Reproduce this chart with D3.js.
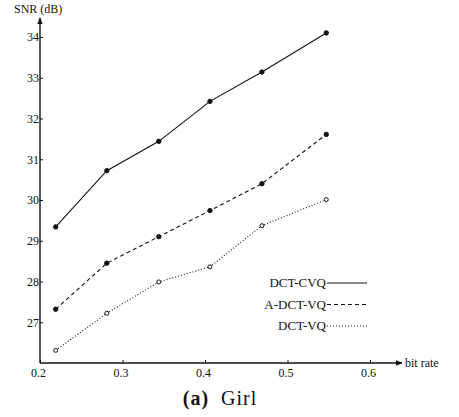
<!DOCTYPE html>
<html>
<head>
<meta charset="utf-8">
<script src="https://cdn.jsdelivr.net/npm/d3@7"></script>
<style>
  body { margin: 0; background: #fff; }
</style>
</head>
<body>
<div id="chart"></div>
<script>
const bitRate = [0.219, 0.281, 0.344, 0.406, 0.469, 0.547]
const cvq = [29.34, 30.72, 31.44, 32.42, 33.14, 34.10]
const adctvq = [27.32, 28.45, 29.10, 29.74, 30.40, 31.61]
const dctvq = [26.31, 27.22, 27.99, 28.36, 29.37, 30.01]
const xTicks = [0.2, 0.3, 0.4, 0.5, 0.6]
const yTicks = [27, 28, 29, 30, 31, 32, 33, 34]
const seriesNames = ['DCT-CVQ', 'A-DCT-VQ', 'DCT-VQ']

const serif = '"Liberation Serif", "Times New Roman", "DejaVu Serif", serif'

const svg = d3.select('#chart')
  .append('svg')
    .attr('width', 459)
    .attr('height', 417)
    .style('font-family', serif)

const x = d3.scaleLinear().domain([0.2, 0.6]).range([40, 370])
const y = d3.scaleLinear().domain([26, 34]).range([363, 37])

svg.append('defs').append('marker')
    .attr('id', 'arrow')
    .attr('viewBox', '0 -5 10 10')
    .attr('refX', 9)
    .attr('markerWidth', 7)
    .attr('markerHeight', 7)
    .attr('markerUnits', 'userSpaceOnUse')
    .attr('orient', 'auto')
  .append('path')
    .attr('d', 'M0,-4L10,0L0,4Z')
    .style('fill', '#111')

// axes lines with arrows
svg.append('line')
  .attr('x1', x(0.2)).attr('y1', y(26))
  .attr('x2', 402).attr('y2', y(26))
  .attr('marker-end', 'url(#arrow)')
  .style('stroke', '#111').style('stroke-width', 1.4)

svg.append('line')
  .attr('x1', x(0.2)).attr('y1', y(26))
  .attr('x2', x(0.2)).attr('y2', 18)
  .attr('marker-end', 'url(#arrow)')
  .style('stroke', '#111').style('stroke-width', 1.4)

const xAxis = svg.append('g')
  .attr('transform', `translate(0,${y(26)})`)
  .call(d3.axisBottom(x).tickValues(xTicks).tickSize(-3).tickFormat(d3.format('.1f')))
xAxis.attr('font-family', serif)
xAxis.select('.domain').remove()
xAxis.selectAll('text').attr('dy', '0.9em').attr('dx', '-2')
  .style('font-size', '12px').style('font-family', serif).style('fill', '#111')
xAxis.selectAll('line').style('stroke', '#111')

const yAxis = svg.append('g')
  .attr('transform', `translate(${x(0.2)},0)`)
  .call(d3.axisLeft(y).tickValues(yTicks).tickSize(-3).tickPadding(1))
yAxis.attr('font-family', serif)
yAxis.select('.domain').remove()
yAxis.selectAll('text')
  .style('font-size', '12px').style('font-family', serif).style('fill', '#111')
yAxis.selectAll('line').style('stroke', '#111')

svg.append('text')
  .attr('x', 14).attr('y', 13)
  .style('font-size', '12px')
  .style('fill', '#111')
  .text('SNR (dB)')

svg.append('text')
  .attr('x', 405).attr('y', y(26) + 4)
  .style('font-size', '12px')
  .style('fill', '#111')
  .text('bit rate')

svg.append('text')
  .attr('x', 220).attr('y', 405)
  .attr('text-anchor', 'middle')
  .style('font-size', '20px')
  .style('fill', '#111')
  .style('letter-spacing', '1px')
  .html('<tspan style="font-weight:bold">(a)</tspan>\u00a0 Girl')

const series = [
  { name: seriesNames[0], values: cvq, dash: null, filled: true },
  { name: seriesNames[1], values: adctvq, dash: '4,3', filled: true },
  { name: seriesNames[2], values: dctvq, dash: '1,2', filled: false }
]

const line = d3.line()
  .x((d, i) => x(bitRate[i]))
  .y(d => y(d))

series.forEach((s, k) => {
  svg.append('path')
    .attr('d', line(s.values))
    .style('fill', 'none')
    .style('stroke', '#111')
    .style('stroke-width', 1.1)
    .style('stroke-dasharray', s.dash)

  svg.selectAll(null)
    .data(s.values)
    .enter().append('circle')
      .attr('cx', (d, i) => x(bitRate[i]))
      .attr('cy', d => y(d))
      .attr('r', s.filled ? 2.2 : 2)
      .style('fill', s.filled ? '#111' : '#fff')
      .style('stroke', '#111')
      .style('stroke-width', 1)

  // legend entry
  const ly = 283 + k * 21.5
  svg.append('text')
    .attr('x', 326).attr('y', ly + 4)
    .attr('text-anchor', 'end')
    .style('font-size', '13px')
    .style('fill', '#111')
    .text(s.name)
  svg.append('line')
    .attr('x1', 327).attr('x2', 367)
    .attr('y1', ly).attr('y2', ly)
    .style('stroke', '#111')
    .style('stroke-width', 1.1)
    .style('stroke-dasharray', s.dash)
})
</script>
</body>
</html>
